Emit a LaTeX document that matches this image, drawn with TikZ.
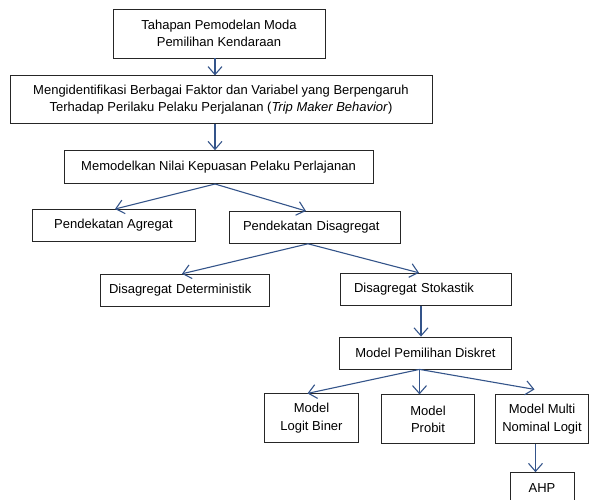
\documentclass[tikz,border=0pt]{standalone}
\usepackage{fontspec}
\setmainfont{Liberation Sans}
\usetikzlibrary{positioning}
\usetikzlibrary{arrows.meta}
\definecolor{arrowblue}{RGB}{52,84,138}

\begin{document}
\begin{tikzpicture}[
  box/.style={draw=black!85, line width=0.8pt, align=center, inner sep=0pt,
    font=\fontsize{13}{17.5}\selectfont},
  link/.style={draw=arrowblue, line width=1.1pt, -{Straight Barb[length=8pt,width=14pt]}}
]

  \useasboundingbox (0,0) rectangle (590pt,-499pt);

  % Define nodes
  \node[box, minimum width=212pt, minimum height=49pt] (tahap) at (219pt,-33.5pt)
    {Tahapan Pemodelan Moda\\Pemilihan Kendaraan};
  \node[box, minimum width=422pt, minimum height=48pt, below=17pt of tahap, xshift=2pt] (ident)
    {Mengidentifikasi Berbagai Faktor dan Variabel yang Berpengaruh\\
     Terhadap Perilaku Pelaku Perjalanan (\textit{Trip Maker Behavior})};
  \node[box, minimum width=309pt, minimum height=33pt, below=26pt of ident, xshift=-2.5pt] (nilai)
    {Memodelkan Nilai Kepuasan Pelaku Perlajanan};
  \node[box, minimum width=163pt, minimum height=32pt, below=25pt of nilai, xshift=-105pt] (agr)
    {Pendekatan Agregat};
  \node[box, align=left, inner xsep=14pt, text width=143pt, minimum height=32pt,
    below=27pt of nilai, xshift=96pt] (disagr) {Pendekatan Disagregat};
  \node[box, align=left, inner xsep=9pt, text width=151pt, minimum height=32pt,
    below=30pt of disagr, xshift=-130pt] (determ) {Disagregat Deterministik};
  \node[box, align=left, inner xsep=14pt, text width=143pt, minimum height=32pt,
    below=29pt of disagr, xshift=111pt] (stok) {Disagregat Stokastik};
  \node[box, minimum width=172pt, minimum height=32pt, below=31pt of stok] (diskret)
    {Model Pemilihan Diskret};
  \node[box, minimum width=94pt, minimum height=49pt, below=24pt of diskret, xshift=-114pt] (biner)
    {Model\\Logit Biner};
  \node[box, minimum width=93pt, minimum height=49pt, below=25pt of diskret, xshift=2.5pt] (probit)
    {Model\\Probit};
  \node[box, minimum width=93pt, minimum height=49pt, below=25pt of diskret, xshift=116.5pt] (multi)
    {Model Multi\\Nominal Logit};
  \node[box, minimum width=64pt, minimum height=30pt, below=28pt of multi] (ahp) {AHP};

  % Connect the nodes
  \draw[link] ([xshift=-4pt]tahap.south) -- ([xshift=-4pt]tahap.south |- ident.north);
  \draw[link] ([xshift=-6pt]ident.south) -- ([xshift=-6pt]ident.south |- nilai.north);
  \draw[link] ([xshift=-3.5pt]nilai.south) -- ([xshift=1.5pt]agr.north);
  \draw[link] ([xshift=-3.5pt]nilai.south) -- ([xshift=-8.5pt]disagr.north);
  \draw[link] ([xshift=-6.5pt]disagr.south) -- ([xshift=-2.5pt]determ.north);
  \draw[link] ([xshift=-6.5pt]disagr.south) -- ([xshift=-6.5pt]stok.north);
  \draw[link] ([xshift=-4.5pt]stok.south) -- ([xshift=-4.5pt]stok.south |- diskret.north);
  \draw[link] ([xshift=-6pt]diskret.south) -- ([xshift=-4pt]biner.north);
  \draw[link] ([xshift=-6pt]diskret.south) -- ([xshift=-6pt]diskret.south |- probit.north);
  \draw[link] ([xshift=-6pt]diskret.south) -- ([xshift=-7.5pt,yshift=5pt]multi.north);
  \draw[link] ([xshift=-6.5pt]multi.south) -- ([xshift=-6.5pt]multi.south |- ahp.north);

\end{tikzpicture}
\end{document}
